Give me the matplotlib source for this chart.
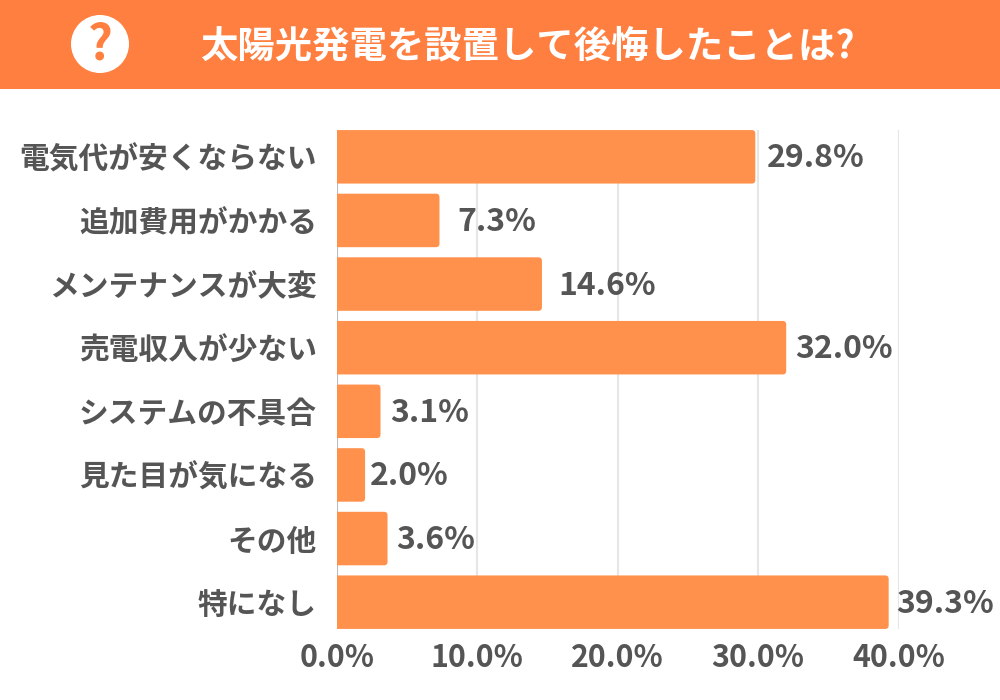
import matplotlib
matplotlib.use("Agg")
import matplotlib.pyplot as plt
from matplotlib.patches import Circle, FancyBboxPatch, Rectangle

plt.rcParams["font.family"] = ["Noto Sans CJK JP", "DejaVu Sans"]

TITLE = "太陽光発電を設置して後悔したことは?"
CATEGORIES = [
    "電気代が安くならない",
    "追加費用がかかる",
    "メンテナンスが大変",
    "売電収入が少ない",
    "システムの不具合",
    "見た目が気になる",
    "その他",
    "特になし",
]
VALUES = [29.8, 7.3, 14.6, 32.0, 3.1, 2.0, 3.6, 39.3]
TICKS = [0, 10, 20, 30, 40]
# gap between bar end and its label, in px (not even in the original)
LABEL_GAPS = [12, 18, 16, 9, 10, 5, 9, 8]

HEADER = "#FF7F41"
BAR = "#FF914D"
TEXT = "#555555"
GRID = "#E6E6E6"
W, H = 1000, 700

fig = plt.figure(figsize=(W / 100, H / 100), dpi=100, facecolor="white")

# header band drawn in pixel coordinates
top = fig.add_axes([0, 0, 1, 1], zorder=3)
top.set_xlim(0, W)
top.set_ylim(H, 0)
top.axis("off")
top.add_patch(Rectangle((0, 0), W, 89, color=HEADER, lw=0))
top.add_patch(Circle((100, 44), 29, color="white", lw=0))
top.text(100, 45, "?", color=HEADER, fontsize=35, fontweight="bold", ha="center", va="center")
top.text(527.5, 46, TITLE, color="white", fontsize=26.9, fontweight="bold", ha="center", va="center")

# plot area: x0=337 to 40%=898, rows 63.6 px tall from y=125
ax = fig.add_axes([337 / W, 1 - 634 / H, (898.5 - 337) / W, 509 / H])
ax.set_xlim(0, 40)
ax.set_ylim(len(VALUES) - 0.5, -0.5)
for side in ax.spines:
    ax.spines[side].set_visible(False)

px_x = (898.5 - 337) / 40
px_y = 509 / len(VALUES)
bar_h = 53.5 / px_y
for tick in TICKS:
    ax.vlines(tick, -bar_h / 2, len(VALUES) - 1 + bar_h / 2, color=GRID if tick else "#BBBBBB",
              lw=1.5, zorder=1)

for i, (value, gap) in enumerate(zip(VALUES, LABEL_GAPS)):
    bar = FancyBboxPatch(
        (-1, i - bar_h / 2), value + 1, bar_h,
        boxstyle="round,pad=0,rounding_size=0.25",
        mutation_aspect=px_x / px_y,
        facecolor=BAR, edgecolor="none", zorder=2,
    )
    ax.add_patch(bar)
    ax.text(value + gap / px_x, i + 1.5 / px_y, f"{value:.1f}%", color=TEXT, fontsize=23, fontweight="bold",
            ha="left", va="center", clip_on=False, zorder=4)

ax.set_yticks(range(len(CATEGORIES)))
ax.set_yticklabels(CATEGORIES, fontsize=21.4, fontweight="bold", color=TEXT)
ax.set_xticks(TICKS)
ax.set_xticklabels([f"{t:.1f}%" for t in TICKS], fontsize=21.8, fontweight="bold", color=TEXT)
ax.tick_params(axis="both", length=0)
ax.tick_params(axis="y", pad=14.5)
ax.tick_params(axis="x", pad=5.5)

fig.savefig("out.png", dpi=100, facecolor="white")
plt.close(fig)
